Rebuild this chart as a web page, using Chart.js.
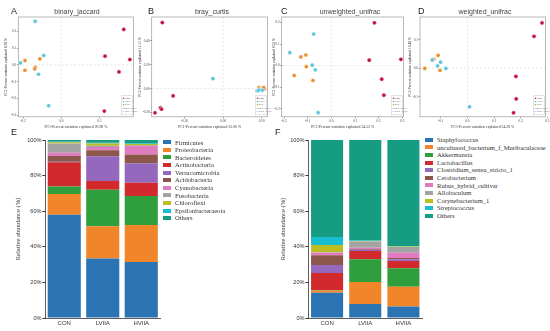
<!DOCTYPE html>
<html>
<head>
<meta charset="utf-8">
<script src="https://cdn.jsdelivr.net/npm/chart.js@4.4.1/dist/chart.umd.min.js"></script>
<style>
  body { margin: 0; background: #fff; }
  #fig { position: relative; width: 550px; height: 331px; overflow: hidden; background: #fff; }
  canvas { position: absolute; }
  .letter { position: absolute; font: 9px 'Liberation Sans', Arial, sans-serif; color: #222; }
  .ptitle { position: absolute; font: 7px 'Liberation Sans', Arial, sans-serif; color: #444; transform: translateX(-50%); white-space: nowrap; }
  .legend { position: absolute; font: 6.6px 'Liberation Serif', 'Times New Roman', serif; color: #333; }
  .legend div { height: 7.6px; line-height: 7.6px; white-space: nowrap; display: flex; align-items: center; }
  .legend span.sw { display: inline-block; width: 8px; height: 4px; margin-right: 4px; }
</style>
</head>
<body>
<div id="fig">
  <canvas id="cA" width="138" height="130" style="left:0;top:0"></canvas>
  <canvas id="cB" width="134" height="130" style="left:138px;top:0"></canvas>
  <canvas id="cC" width="138" height="130" style="left:270px;top:0"></canvas>
  <canvas id="cD" width="142" height="130" style="left:408px;top:0"></canvas>
  <canvas id="cE" width="165" height="201" style="left:0;top:130px"></canvas>
  <canvas id="cF" width="150" height="201" style="left:275px;top:130px"></canvas>

  <div class="letter" style="left:11px;top:6px">A</div>
  <div class="letter" style="left:148px;top:6px">B</div>
  <div class="letter" style="left:281px;top:6px">C</div>
  <div class="letter" style="left:418px;top:6px">D</div>
  <div class="letter" style="left:11px;top:127px">E</div>
  <div class="letter" style="left:275px;top:127px">F</div>

  <div class="ptitle" style="left:77px;top:8px">binary_jaccard</div>
  <div class="ptitle" style="left:212px;top:8px">bray_curtis</div>
  <div class="ptitle" style="left:350px;top:8px">unweighted_unifrac</div>
  <div class="ptitle" style="left:485px;top:8px">weighted_unifrac</div>

  <div class="legend" id="legE" style="left:163px;top:138.5px"></div>
  <div class="legend" id="legF" style="left:425px;top:136px"></div>
</div>
<script>
// PCoA groups
const groups = ['CON', 'HVIIA', 'LVIIA'];
const groupColors = ['#c4123a', '#5cc5dc', '#e98f2c'];

// binary_jaccard points [PC1, PC2]
const jaccardCON = [[0.327, 0.212], [0.229, 0.052], [0.359, 0.032], [0.302, -0.042], [0.225, -0.276]];
const jaccardHVIIA = [[-0.137, 0.26], [-0.092, 0.056], [-0.214, 0.012], [-0.119, -0.056], [-0.066, -0.244]];
const jaccardLVIIA = [[-0.19, 0.026], [-0.112, 0.036], [-0.19, -0.032], [-0.136, -0.014], [-0.139, -0.024]];

// bray_curtis points
const brayCON = [[-0.315, 0.553], [-0.259, -0.061], [-0.325, -0.161], [-0.319, -0.172], [-0.353, -0.203]];
const brayHVIIA = [[-0.053, 0.083], [0.176, -0.019], [0.19, -0.008], [0.203, -0.014], [0.184, -0.014]];
const brayLVIIA = [[0.186, 0.008], [0.203, 0.003], [0.215, -0.003], [0.195, -0.008], [0.21, 0.008]];

// unweighted_unifrac points
const unwCON = [[0.182, 0.198], [0.16, 0.025], [0.294, 0.029], [0.213, -0.063], [0.222, -0.137]];
const unwHVIIA = [[-0.075, 0.146], [-0.176, 0.06], [-0.081, 0.002], [-0.068, -0.02], [-0.056, -0.218]];
const unwLVIIA = [[-0.108, 0.049], [-0.129, 0.04], [-0.106, -0.005], [-0.157, -0.046], [-0.078, -0.069]];

// weighted_unifrac points
const wCON = [[0.28, 0.159], [0.25, 0.112], [0.182, -0.029], [0.183, -0.108], [0.173, -0.157]];
const wHVIIA = [[-0.101, 0.021], [-0.112, 0.008], [-0.081, -0.001], [-0.132, 0.029], [0.008, -0.136]];
const wLVIIA = [[-0.11, 0.045], [-0.126, 0.031], [-0.131, 0.029], [-0.16, -0.001], [-0.103, -0.008]];

// axis ticks
const ticksA_x = [-0.2, 0, 0.2], ticksA_y = [-0.3, -0.2, -0.1, 0, 0.1, 0.2];
const ticksB_x = [-0.2, 0, 0.2], ticksB_y = [-0.2, 0, 0.2, 0.4];
const ticksC_x = [-0.2, -0.1, 0, 0.1, 0.2, 0.3], ticksC_y = [-0.2, -0.1, 0, 0.1, 0.2];
const ticksD_x = [-0.1, 0, 0.1, 0.2, 0.3], ticksD_y = [-0.1, 0, 0.1];

// stacked bars
const samples = ['CON', 'LVIIA', 'HVIIA'];
const phylumTaxa = ['Firmicutes', 'Proteobacteria', 'Bacteroidetes', 'Actinobacteria', 'Verrucomicrobia',
  'Acidobacteria', 'Cyanobacteria', 'Fusobacteria', 'Chloroflexi', 'Epsilonbacteraeota', 'Others'];
const phylumCON = [58.0, 11.6, 4.3, 13.6, 0.3, 3.2, 1.9, 5.2, 0.6, 0.3, 1.0];
const phylumLVIIA = [33.4, 18.2, 20.4, 5.0, 13.9, 3.4, 1.8, 0.6, 1.4, 0.3, 1.6];
const phylumHVIIA = [31.5, 20.7, 16.3, 7.5, 10.9, 5.0, 4.7, 0.5, 0.7, 0.3, 1.9];

const genusTaxa = ['Staphylococcus', 'uncultured_bacterium_f_Muribaculaceae', 'Akkermansia', 'Lactobacillus',
  'Clostridium_sensu_stricto_1', 'Cetobacterium', 'Rubus_hybrid_cultivar', 'Allobaculum',
  'Corynebacterium_1', 'Streptococcus', 'Others'];
const genusCON = [14.2, 1.3, 0.2, 9.6, 4.5, 5.4, 1.5, 0.3, 4.0, 4.5, 54.5];
const genusLVIIA = [7.9, 12.3, 12.8, 4.6, 0.8, 0.3, 0.8, 3.5, 0.3, 0.2, 56.5];
const genusHVIIA = [6.4, 11.2, 10.3, 4.1, 1.0, 0.7, 3.0, 3.2, 0.3, 0.3, 59.5];

const taxColors = ['#2b74b4', '#f0852a', '#2f9e3c', '#d22a2c', '#9468bd', '#8c564b',
  '#e17cc1', '#a3a3a3', '#bcbd22', '#19bdd0', '#179c84'];

const serif = "'Liberation Serif', 'Times New Roman', serif";
const sans = "'Liberation Sans', Arial, sans-serif";

const scatterDecor = {
  id: 'scatterDecor',
  beforeDatasetsDraw(chart) {
    const { ctx, chartArea: a, scales: { x, y } } = chart;
    ctx.save();
    ctx.strokeStyle = '#d4d4d4';
    ctx.lineWidth = 0.6;
    ctx.setLineDash([2, 2]);
    const px = x.getPixelForValue(0), py = y.getPixelForValue(0);
    ctx.beginPath();
    ctx.moveTo(px, a.top); ctx.lineTo(px, a.bottom);
    ctx.moveTo(a.left, py); ctx.lineTo(a.right, py);
    ctx.stroke();
    ctx.setLineDash([]);
    ctx.strokeStyle = '#9a9a9a';
    ctx.lineWidth = 0.7;
    ctx.strokeRect(a.left, a.top, a.width, a.height);
    ctx.restore();
  },
  afterDatasetsDraw(chart, args, opts) {
    const { ctx, chartArea: a } = chart;
    const bx = a.right - 12, by = a.bottom - 21;
    ctx.save();
    ctx.strokeStyle = '#bbb';
    ctx.lineWidth = 0.4;
    ctx.strokeRect(bx, by, 11, 19);
    ctx.font = '2.4px ' + sans;
    ctx.textBaseline = 'middle';
    chart.data.datasets.forEach((ds, i) => {
      const yy = by + 2.5 + i * 3.2;
      ctx.fillStyle = ds.backgroundColor;
      ctx.beginPath(); ctx.arc(bx + 2, yy, 0.8, 0, Math.PI * 2); ctx.fill();
      ctx.fillStyle = '#555';
      ctx.fillText(ds.label, bx + 3.5, yy);
    });
    ctx.fillStyle = '#777';
    ctx.fillText(opts.stat1, bx + 0.8, by + 13);
    ctx.fillText(opts.stat2, bx + 0.8, by + 16);
    ctx.restore();
  }
};

function scatter(id, sets, xr, yr, xt, yt, xTitle, yTitle, padL, yW, dec) {
  const tickFont = { family: serif, size: 3.4 };
  new Chart(document.getElementById(id), {
    type: 'scatter',
    data: {
      datasets: sets.map((pts, i) => ({
        label: groups[i],
        data: pts.map(([x, y]) => ({ x, y })),
        backgroundColor: groupColors[i],
        borderColor: '#ffffff',
        borderWidth: 0.5,
        pointRadius: 2.1,
      })),
    },
    options: {
      responsive: false,
      animation: false,
      layout: { padding: { left: padL, right: 2, top: 17, bottom: 0 } },
      plugins: {
        legend: { display: false },
        tooltip: { enabled: false },
        scatterDecor: { stat1: 'PERMANOVA R2=0.53', stat2: 'p-value=0.001' },
      },
      scales: {
        x: {
          type: 'linear', min: xr[0], max: xr[1],
          afterBuildTicks: (s) => { s.ticks = xt.map((v) => ({ value: v })); },
          afterFit: (s) => { s.height = 130 - 116.8; },
          border: { display: false },
          grid: { drawOnChartArea: false, tickLength: 1.5, color: '#999' },
          ticks: { font: tickFont, color: '#444', padding: 0.5, maxRotation: 0, callback: (v) => v.toFixed(dec) },
          title: { display: true, text: xTitle, font: { family: serif, size: 3.8 }, color: '#333', padding: { top: 0, bottom: 1 } },
        },
        y: {
          type: 'linear', min: yr[0], max: yr[1],
          afterBuildTicks: (s) => { s.ticks = yt.map((v) => ({ value: v })); },
          afterFit: (s) => { s.width = yW; },
          border: { display: false },
          grid: { drawOnChartArea: false, tickLength: 1.5, color: '#999' },
          ticks: { font: tickFont, color: '#444', padding: 0.5, callback: (v) => v.toFixed(dec) },
          title: { display: true, text: yTitle, font: { family: serif, size: 3.6 }, color: '#333', padding: 0 },
        },
      },
    },
    plugins: [scatterDecor],
  });
}

scatter('cA', [jaccardCON, jaccardHVIIA, jaccardLVIIA], [-0.225, 0.378], [-0.31, 0.286], ticksA_x, ticksA_y,
  'PC1-Percent variation explained 20.98 %', 'PC2-Percent variation explained 8.59 %', 4, 14.3, 1);
scatter('cB', [brayCON, brayHVIIA, brayLVIIA], [-0.37, 0.23], [-0.236, 0.6], ticksB_x, ticksB_y,
  'PC1-Percent variation explained 35.00 %', 'PC2-Percent variation explained 12.12 %', 0, 13.7, 2);
scatter('cC', [unwCON, unwHVIIA, unwLVIIA], [-0.21, 0.305], [-0.237, 0.225], ticksC_x, ticksC_y,
  'PC1-Percent variation explained 24.53 %', 'PC2-Percent variation explained 8.53 %', 2, 9.7, 1);
scatter('cD', [wCON, wHVIIA, wLVIIA], [-0.178, 0.293], [-0.171, 0.18], ticksD_x, ticksD_y,
  'PC1-Percent variation explained 54.28 %', 'PC2-Percent variation explained 18.40 %', 0, 12, 1);

function stacked(id, taxa, con, lv, hv, padL, yW, padR, barPct, legId) {
  new Chart(document.getElementById(id), {
    type: 'bar',
    data: {
      labels: samples,
      datasets: taxa.map((name, i) => ({
        label: name,
        data: [con[i], lv[i], hv[i]],
        backgroundColor: taxColors[i],
        borderWidth: 0,
        barPercentage: barPct,
        categoryPercentage: 1,
      })),
    },
    options: {
      responsive: false,
      animation: false,
      layout: { padding: { left: padL, right: padR, top: 10, bottom: 0 } },
      plugins: { legend: { display: false }, tooltip: { enabled: false } },
      scales: {
        x: {
          stacked: true,
          afterFit: (s) => { s.height = 13; },
          grid: { display: false, drawTicks: false },
          border: { color: '#333', width: 0.8 },
          ticks: { font: { family: sans, size: 6 }, color: '#333', padding: 2 },
        },
        y: {
          stacked: true, min: 0, max: 100,
          afterFit: (s) => { s.width = yW; },
          grid: { drawOnChartArea: false, tickLength: 2.5, color: '#333' },
          border: { color: '#333', width: 0.8 },
          ticks: { stepSize: 20, font: { family: sans, size: 5.6 }, color: '#333', padding: 1, callback: (v) => v + '%' },
          title: { display: true, text: 'Relative abundance (%)', font: { family: serif, size: 6.5 }, color: '#333', padding: 0 },
        },
      },
    },
  });
  const leg = document.getElementById(legId);
  taxa.forEach((name, i) => {
    const row = document.createElement('div');
    const sw = document.createElement('span');
    sw.className = 'sw';
    sw.style.background = taxColors[i];
    row.appendChild(sw);
    row.appendChild(document.createTextNode(name));
    leg.appendChild(row);
  });
}

stacked('cE', phylumTaxa, phylumCON, phylumLVIIA, phylumHVIIA, 14, 31, 4.5, 0.86, 'legE');
stacked('cF', genusTaxa, genusCON, genusLVIIA, genusHVIIA, 4, 29, 2.5, 0.84, 'legF');
</script>
</body>
</html>
